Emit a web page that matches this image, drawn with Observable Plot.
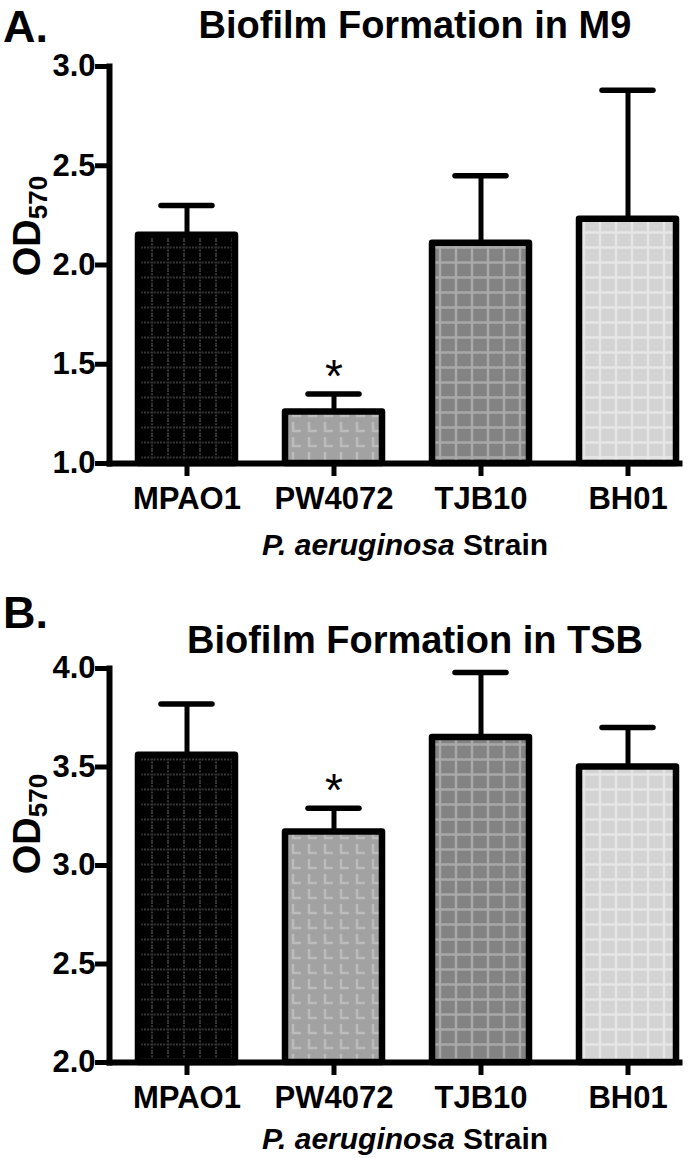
<!DOCTYPE html>
<html><head><meta charset="utf-8">
<script src="https://cdn.jsdelivr.net/npm/d3@7"></script>
<script src="https://cdn.jsdelivr.net/npm/@observablehq/plot@0.6"></script>
<style>
body{margin:0;background:#fff;}
#wrap{position:relative;width:700px;height:1158px;font-family:"Liberation Sans",Arial,sans-serif;color:#000;overflow:hidden;}
.panel{position:absolute;left:0;width:700px;}
.letter{position:absolute;left:3px;font-weight:bold;font-size:45px;line-height:1.1;}
.title{position:absolute;font-weight:bold;font-size:38px;white-space:nowrap;line-height:1;transform:translateX(-50%);}
.xlab{position:absolute;font-weight:bold;font-size:30px;white-space:nowrap;line-height:1;transform:translateX(-50%);}
.ylab{position:absolute;font-weight:bold;font-size:38px;white-space:nowrap;line-height:1;transform:translate(-50%,-50%) rotate(-90deg);}
.ylab sub{font-size:26px;vertical-align:-7px;}
</style></head>
<body>
<svg width="0" height="0" style="position:absolute">
<defs>
<pattern id="patMPAO1" width="16" height="15" patternUnits="userSpaceOnUse">
<rect width="16" height="15" fill="#000"/>
<path d="M8 0V15M0 7.5H16" stroke="#363636" stroke-width="2" stroke-dasharray="2 1.2"/>
</pattern>
<pattern id="patPW4072" width="16" height="15" patternUnits="userSpaceOnUse">
<rect width="16" height="15" fill="#a2a2a2"/>
<path d="M5 2V11H13" fill="none" stroke="#bcbcbc" stroke-width="2.5"/>
</pattern>
<pattern id="patTJB10" width="16" height="15" patternUnits="userSpaceOnUse">
<rect width="16" height="15" fill="#838383"/>
<path d="M8 0V15M0 7.5H16" stroke="#a9a9a9" stroke-width="2.5"/>
</pattern>
<pattern id="patBH01" width="16" height="15" patternUnits="userSpaceOnUse">
<rect width="16" height="15" fill="#d3d3d3"/>
<path d="M8 0V15M0 7.5H16" stroke="#e6e6e6" stroke-width="2.5"/>
</pattern>
</defs>
</svg>
<div id="wrap">
  <div class="letter" style="top:2px">A.</div>
  <div class="title" style="left:415px;top:6px">Biofilm Formation in M9</div>
  <div class="panel" id="pA" style="top:0px"></div>
  <div class="ylab" style="left:29px;top:226px">OD<sub>570</sub></div>
  <div class="xlab" style="left:405px;top:530px"><i>P. aeruginosa</i> Strain</div>

  <div class="letter" style="top:588px">B.</div>
  <div class="title" style="left:415px;top:621px">Biofilm Formation in TSB</div>
  <div class="panel" id="pB" style="top:602px"></div>
  <div class="ylab" style="left:29px;top:824px">OD<sub>570</sub></div>
  <div class="xlab" style="left:405px;top:1124px"><i>P. aeruginosa</i> Strain</div>
</div>
<script>
const strains = ["MPAO1", "PW4072", "TJB10", "BH01"];
const m9Mean = [2.15, 1.26, 2.11, 2.23];
const m9Upper = [2.30, 1.35, 2.45, 2.88];
const tsbMean = [3.56, 3.17, 3.65, 3.50];
const tsbUpper = [3.82, 3.29, 3.98, 3.70];
const significant = [false, true, false, false];
const m9Ticks = [1.0, 1.5, 2.0, 2.5, 3.0];
const tsbTicks = [2.0, 2.5, 3.0, 3.5, 4.0];
const patternIds = ["patMPAO1", "patPW4072", "patTJB10", "patBH01"];

function panel(mean, upper, ticks, height, marginBottom) {
  const data = strains.map((s, i) => ({strain: s, mean: mean[i], upper: upper[i], sig: significant[i], pat: `url(#${patternIds[i]})`}));
  const base = ticks[0];
  return Plot.plot({
    width: 700, height, marginTop: 66, marginBottom, marginLeft: 109, marginRight: 21,
    style: {fontFamily: "'Liberation Sans', Arial, sans-serif", fontWeight: "bold", fontSize: "31px", color: "black", background: "transparent", overflow: "visible"},
    x: {domain: strains, paddingInner: 0.3, paddingOuter: 0.08, align: 1, label: null},
    y: {domain: [ticks[0], ticks[ticks.length - 1]], label: null},
    color: {type: "identity"},
    marks: [
      Plot.ruleX(data, {x: "strain", y1: "mean", y2: "upper", strokeWidth: 5}),
      Plot.tickY(data, {x: "strain", y: "upper", strokeWidth: 5.5, strokeLinecap: "round", insetLeft: 26, insetRight: 26}),
      Plot.barY(data, {x: "strain", y1: () => base, y2: "mean", fill: "pat", stroke: "black", strokeWidth: 6.5, insetLeft: 3, insetRight: 3, strokeLinejoin: "round"}),
      Plot.text(data.filter(d => d.sig), {x: "strain", y: "upper", text: () => "*", fontSize: 46, fontWeight: "normal", dy: -17}),
      Plot.frame({anchor: "left", strokeWidth: 6}),
      Plot.frame({anchor: "bottom", strokeWidth: 6}),
      Plot.axisY({ticks, tickSize: 14, tickPadding: 0, strokeWidth: 5, tickFormat: d3.format(".1f"), label: null}),
      Plot.axisX({tickSize: 13, tickPadding: 10, strokeWidth: 5, label: null})
    ]
  });
}
document.getElementById("pA").append(panel(m9Mean, m9Upper, m9Ticks, 580, 117));
document.getElementById("pB").append(panel(tsbMean, tsbUpper, tsbTicks, 556, 96));
</script>
</body></html>
